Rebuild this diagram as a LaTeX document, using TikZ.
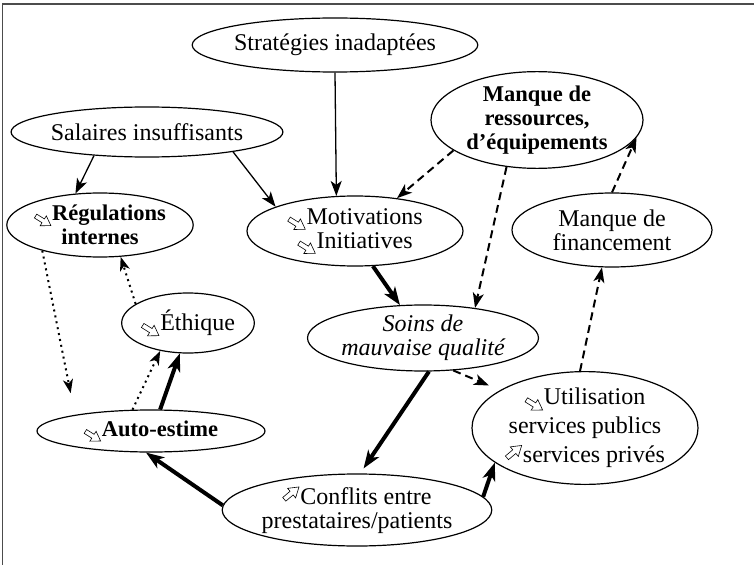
\documentclass[tikz,border=0pt]{standalone}
\usepackage{fontspec}
\setmainfont{Liberation Serif}
\usetikzlibrary{arrows.meta,shapes.geometric}
% outlined block arrows used inside the labels
\newcommand{\blockarrow}[1]{\tikz[baseline=-0.45ex,x=1em,y=1em,line width=0.6bp,line join=miter]
  \draw[fill=white,rotate=#1] (0,-0.1)--(0.4,-0.1)--(0.4,-0.26)--(0.8,0)--(0.4,0.26)--(0.4,0.1)--(0,0.1)--cycle;}
\newcommand{\icdn}{\blockarrow{-32}\kern1bp}
\newcommand{\icup}{\blockarrow{40}\kern1bp}
\begin{document}
\begin{tikzpicture}[x=1bp,y=-1bp,
  bub/.style={ellipse,draw,line width=1.2bp,inner sep=0pt,align=center,
    font=\fontsize{24bp}{24bp}\selectfont},
  bubbold/.style={bub,font=\fontsize{22.5bp}{24bp}\selectfont\bfseries},
  bubital/.style={bub,font=\fontsize{24bp}{24bp}\selectfont\itshape},
  plainarr/.style={line width=1.3bp,-{Stealth[length=15bp,width=11bp,inset=4bp]}},
  dasharr/.style={line width=2bp,dash pattern=on 8bp off 5bp,-{Stealth[length=15bp,width=11bp,inset=4bp]}},
  dotarr/.style={line width=2bp,dash pattern=on 2bp off 4bp,-{Stealth[length=14bp,width=10bp,inset=4bp]}},
  heavyarr/.style={line width=4bp,-{Stealth[length=18bp,width=13bp,inset=5bp]}}]
\useasboundingbox (0,0) rectangle (754,565);
% frame
\draw[line width=1.5bp,black!70] (2.5,565) -- (2.5,4) -- (754,4);

% bubbles
\node[bub,minimum width=260bp,minimum height=54bp] (S) at (335,45) {Stratégies inadaptées};
\node[bub,minimum width=258bp,minimum height=50bp] (Sal) at (147,132) {Salaires insuffisants};
\node[bubbold,minimum width=212bp,minimum height=86bp] (MR) at (537,120) {Manque de\\ressources,\\d’équipements};
\node[bubbold,minimum width=156bp,minimum height=64bp] (R) at (100,225) {\icdn Régulations\\internes};
\node[bub,minimum width=216bp,minimum height=70bp] (M) at (355,231) {\icdn Motivations\\\icdn Initiatives};
\node[bub,minimum width=200bp,minimum height=74bp] (MF) at (612,230) {Manque de\\financement};
\node[bub,minimum width=128bp,minimum height=60bp] (E) at (188,323) {\icdn Éthique};
\node[bubital,minimum width=212bp,minimum height=66bp] (So) at (423,338) {Soins de\\mauvaise qualité};
\node[bub,minimum width=204bp,minimum height=108bp] (U) at (585,428) {\icdn Utilisation\\[5bp]services publics\\[5bp]\icup services privés};
\node[bubbold,minimum width=228bp,minimum height=42bp] (A) at (151,431) {\icdn Auto-estime};
\node[bub,minimum width=266bp,minimum height=72bp] (C) at (357,510) {\icup Conflits entre\\prestataires/patients};

% thin solid links
\draw[plainarr] (S.-90) -- (M.118);
\draw[plainarr] (Sal.-156) -- (R.128);
\draw[plainarr] (Sal.-13) -- (M.163);
% dashed links
\draw[dasharr] (MR.-160) -- (M.38);
\draw[dasharr] (MR.-123) -- (So.30);
\draw[dasharr] (MF.90) -- (MR.-10);
\draw[dasharr] (U.95) -- (MF.-105);
\draw[dasharr,shorten >=12bp] (So.-47) -- (U.156);
% heavy links
\draw[heavyarr] (M.-63) -- (So.125);
\draw[heavyarr,shorten >=6bp] (So.-80) -- (C.85);
\draw[heavyarr] (C.6) -- (U.-159);
\draw[heavyarr] (C.178) -- (A.-103);
\draw[heavyarr] (A.67) -- (E.-105);
% dotted links
\draw[dotarr] (A.131) -- (E.-135);
\draw[dotarr] (E.160) -- (R.-57);
\draw[dotarr,shorten >=22bp] (R.-156) -- (A.168);
\end{tikzpicture}
\end{document}
